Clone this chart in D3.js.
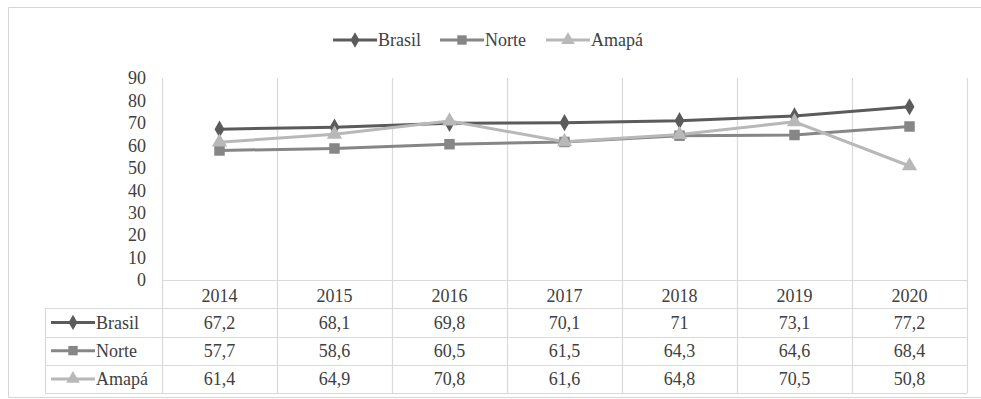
<!DOCTYPE html>
<html>
<head>
<meta charset="utf-8">
<script src="https://cdn.jsdelivr.net/npm/d3@7"></script>
<style>
  body { margin: 0; background: #fff; }
</style>
</head>
<body>
<div id="chart" style="font-family: 'Liberation Serif', serif;"></div>
<script>
const years = ['2014', '2015', '2016', '2017', '2018', '2019', '2020'];
const seriesNames = ['Brasil', 'Norte', 'Amapá'];
const brasil = [67.2, 68.1, 69.8, 70.1, 71, 73.1, 77.2];
const norte = [57.7, 58.6, 60.5, 61.5, 64.3, 64.6, 68.4];
const amapa = [61.4, 64.9, 70.8, 61.6, 64.8, 70.5, 50.8];
const yTicks = [0, 10, 20, 30, 40, 50, 60, 70, 80, 90];

const svgWidth = 981;
const svgHeight = 399;
const font = "'Liberation Serif', serif";
const textColor = '#404040';

const series = [
    { name: seriesNames[0], values: brasil, color: '#5b5b5b', symbol: d3.symbolDiamond, size: 85 },
    { name: seriesNames[1], values: norte, color: '#868686', symbol: d3.symbolSquare, size: 110 },
    { name: seriesNames[2], values: amapa, color: '#b8b8b8', symbol: d3.symbolTriangle, size: 100 }
];

const svg = d3.select('#chart')
    .append('svg')
    .attr('width', svgWidth)
    .attr('height', svgHeight)
    .style('display', 'block');

// outer frame
svg.append('path')
    .attr('d', 'M8.5,397.5 L8.5,7.5 L981,7.5 M8.5,397.5 L981,397.5')
    .attr('fill', 'none')
    .attr('stroke', '#d6d6d6');

const x = d3.scaleBand().domain(years).range([162, 967]);
const y = d3.scaleLinear().domain([0, 90]).range([280, 78]);
const rows = d3.scaleBand().domain(['head'].concat(seriesNames)).range([280, 393]);

const grid = svg.append('g').attr('stroke', '#d9d9d9').attr('stroke-width', 1.2);

// vertical grid lines through plot and table
const bounds = years.map(d => x(d)).concat([x.range()[1]]);
grid.selectAll('.v')
    .data(bounds)
    .join('line')
    .attr('x1', d => Math.round(d) + 0.5)
    .attr('x2', d => Math.round(d) + 0.5)
    .attr('y1', y(90))
    .attr('y2', rows.range()[1]);

// axis line
grid.append('line')
    .attr('x1', x.range()[0]).attr('x2', x.range()[1])
    .attr('y1', y(0) + 0.5).attr('y2', y(0) + 0.5);

// table horizontal lines
const tableLeft = 45;
grid.selectAll('.h')
    .data(seriesNames.map(d => rows(d)).concat([rows.range()[1]]))
    .join('line')
    .attr('x1', tableLeft).attr('x2', x.range()[1])
    .attr('y1', d => Math.round(d) + 0.5)
    .attr('y2', d => Math.round(d) + 0.5);

grid.append('line')
    .attr('x1', tableLeft + 0.5).attr('x2', tableLeft + 0.5)
    .attr('y1', rows(seriesNames[0])).attr('y2', rows.range()[1]);

// y axis labels
svg.append('g').selectAll('text')
    .data(yTicks)
    .join('text')
    .attr('x', 146)
    .attr('y', d => y(d))
    .attr('dy', '0.35em')
    .attr('text-anchor', 'end')
    .style('font-family', font)
    .style('font-size', '18px')
    .attr('fill', textColor)
    .text(d => d);

// lines
const line = d3.line()
    .x((d, i) => x(years[i]) + x.bandwidth() / 2)
    .y(d => y(d));

series.forEach(s => {
    svg.append('path')
        .datum(s.values)
        .attr('fill', 'none')
        .attr('stroke', s.color)
        .attr('stroke-width', 3)
        .attr('d', line);
});

series.forEach(s => {
    svg.append('g').selectAll('path')
        .data(s.values)
        .join('path')
        .attr('transform', (d, i) => `translate(${x(years[i]) + x.bandwidth() / 2},${y(d)})`)
        .attr('d', d3.symbol(s.symbol, s.size))
        .attr('fill', s.color);
});

// table header
svg.append('g').selectAll('text')
    .data(years)
    .join('text')
    .attr('x', d => x(d) + x.bandwidth() / 2)
    .attr('y', rows('head') + rows.bandwidth() / 2 + 2)
    .attr('dy', '0.35em')
    .attr('text-anchor', 'middle')
    .style('font-family', font)
    .style('font-size', '18px')
    .attr('fill', textColor)
    .text(d => d);

function legendKey(g, s, x0, cy) {
    g.append('line')
        .attr('x1', x0).attr('x2', x0 + 44)
        .attr('y1', cy).attr('y2', cy)
        .attr('stroke', s.color).attr('stroke-width', 3);
    g.append('path')
        .attr('transform', `translate(${x0 + 22},${cy})`)
        .attr('d', d3.symbol(s.symbol, s.size * 0.8))
        .attr('fill', s.color);
    g.append('text')
        .attr('x', x0 + 45)
        .attr('y', cy)
        .attr('dy', '0.35em')
        .style('font-family', font)
        .style('font-size', '18px')
        .attr('fill', textColor)
        .text(s.name);
}

// table rows
series.forEach(s => {
    const cy = rows(s.name) + rows.bandwidth() / 2;
    const g = svg.append('g');
    legendKey(g, s, 51, cy);
    g.selectAll('.val')
        .data(s.values)
        .join('text')
        .attr('x', (d, i) => x(years[i]) + x.bandwidth() / 2)
        .attr('y', cy)
        .attr('dy', '0.35em')
        .attr('text-anchor', 'middle')
        .style('font-family', font)
        .style('font-size', '18px')
        .attr('fill', textColor)
        .text(d => String(d).replace('.', ','));
});

// top legend
const legendX = [333, 440, 546];
series.forEach((s, i) => {
    legendKey(svg.append('g'), s, legendX[i], 40);
});
</script>
</body>
</html>
